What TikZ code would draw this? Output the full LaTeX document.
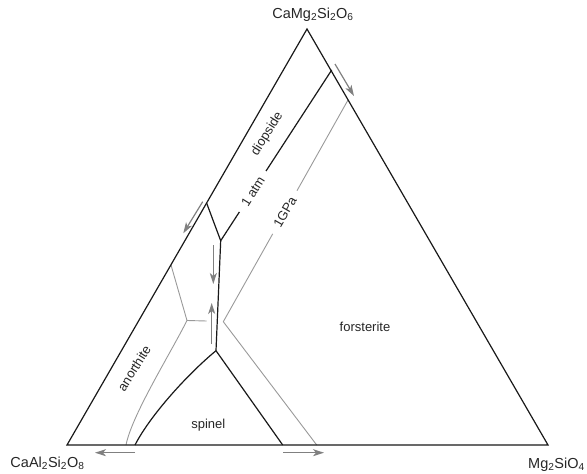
\documentclass[tikz,border=0pt]{standalone}
\usepackage{fontspec}
\setmainfont{Liberation Sans}
\usetikzlibrary{arrows.meta}

\begin{document}
\begin{tikzpicture}
[
x=1pt,y=-1pt,
liq1atm/.style={line width=1.2pt,black!90},
liq1gpa/.style={line width=0.9pt,black!40},
flow/.style={line width=1.2pt,black!50,-{Stealth[length=11pt,width=7pt,inset=3pt]}},
endmember/.style={font=\fontsize{14.5}{17}\selectfont,anchor=base,text=black!85},
field/.style={font=\fontsize{13}{15}\selectfont,text=black!85},
onboundary/.style={field,fill=white,inner xsep=8pt,inner ysep=1pt,rotate=#1},
]
\useasboundingbox (0,0) rectangle (587,474);

%Place the corners
\coordinate (an) at (67,445);		%CaAl2Si2O8
\coordinate (fo) at (548,445);		%Mg2SiO4
\coordinate (di) at (307,29);		%CaMg2Si2O6

%1 atm points
\coordinate (p1) at (331.7,70);		%di boundary, fo side
\coordinate (p2) at (206.7,203.3);	%di-an boundary on edge
\coordinate (p3) at (220.7,240.7);	%di-an-fo point
\coordinate (p4) at (216,350.7);	%an-fo-sp point
\coordinate (p5) at (135,445);
\coordinate (p6) at (282.7,445);

%1 GPa points
\coordinate (q1) at (348,100);
\coordinate (q2) at (223.3,321.7);
\coordinate (q3) at (316.7,445);
\coordinate (q4) at (171,265);
\coordinate (q5) at (187,320.5);
\coordinate (q6) at (206.7,321);
\coordinate (q7) at (126,445);

%arrow ends
\coordinate (a1) at (335,64);     \coordinate (b1) at (354,96);
\coordinate (a2) at (202.7,201.7); \coordinate (b2) at (183.3,233.3);
\coordinate (a3) at (213.3,245);   \coordinate (b3) at (213.3,284);
\coordinate (a4) at (211.7,344);   \coordinate (b4) at (211.7,303);
\coordinate (a5) at (135,452.7);   \coordinate (b5) at (95,452.7);
\coordinate (a6) at (283.3,452.7); \coordinate (b6) at (324,452.7);

%1 GPa boundaries
\draw[liq1gpa] (q1) -- (q2) -- (q3);
\draw[liq1gpa] (q4) -- (q5) -- (q6);
\draw[liq1gpa] (q5) .. controls (169,356) and (132,415) .. (q7);

%1 atm boundaries
\draw[liq1atm] (an) -- (fo) -- (di) -- cycle;
\draw[liq1atm] (p1) -- (p3) -- (p2);
\draw[liq1atm] (p3) -- (p4) -- (p6);
\draw[liq1atm] (p4) .. controls (189,373) and (151,414) .. (p5);

%arrows
\foreach \i in {1,...,6}
  \draw[flow] (a\i) -- (b\i);

%labels
\node[endmember] (dilab) at (313,18.3) {CaMg\textsubscript{2}Si\textsubscript{2}O\textsubscript{6}};
\node[endmember] (anlab) at (47.5,467.7) {CaAl\textsubscript{2}Si\textsubscript{2}O\textsubscript{8}};
\node[endmember] (folab) at (556.5,468) {Mg\textsubscript{2}SiO\textsubscript{4}};
\node[field,anchor=base] (fofield) at (365,331.7) {forsterite};
\node[field,anchor=base] (spfield) at (208.3,428.3) {spinel};
\node[field,rotate=58] (difield) at (267.3,134) {diopside};
\node[field,rotate=58] (anfield) at (134,368.3) {anorthite};
\node[onboundary=58] (atm) at (253,191.7) {1 atm};
\node[onboundary=60] (gpa) at (285,212.3) {1GPa};
\end{tikzpicture}
\end{document}
